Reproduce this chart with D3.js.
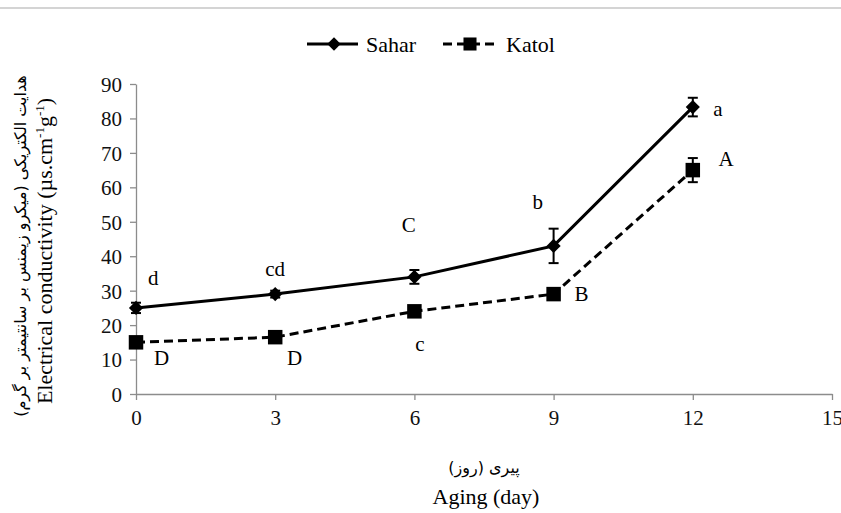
<!DOCTYPE html>
<html>
<head>
<meta charset="utf-8">
<script src="https://cdn.jsdelivr.net/npm/d3@7"></script>
<style>
body { margin: 0; background: #fff; }
</style>
</head>
<body>
<script>
var width = 841, height = 513;
var serif = "'Liberation Serif', 'Times New Roman', 'DejaVu Serif', serif";
var arabic = "'DejaVu Sans', sans-serif";

// data
var days = [0, 3, 6, 9, 12];
var sahar = [25, 29, 34, 43, 83.3];
var saharErr = [1.5, 1, 2, 5, 2.7];
var katol = [15, 16.5, 24, 29, 65];
var katolErr = [1, 1, 1, 1, 3.5];

var xTicks = [0, 3, 6, 9, 12, 15];
var yTicks = [0, 10, 20, 30, 40, 50, 60, 70, 80, 90];

// significance letters (label anchor in data units)
var saharLetters = ["d", "cd", "C", "b", "a"];
var saharLetterDay = [0.37, 3.0, 5.88, 8.66, 12.54];
var saharLetterVal = [33.7, 36.5, 49.2, 55.7, 82.9];
var katolLetters = ["D", "D", "c", "B", "A"];
var katolLetterDay = [0.55, 3.42, 6.12, 9.6, 12.72];
var katolLetterVal = [10.5, 10.6, 14.7, 29, 68.4];

var svg = d3.select("body")
.append("svg")
.attr("width", width)
.attr("height", height)
.attr("id", "svg")
.style("font-family", serif);

// thin frame line at the top
svg.append("line")
	.attr("x1", 0).attr("x2", width)
	.attr("y1", 8).attr("y2", 8)
	.attr("stroke", "#d4d4d4")
	.attr("stroke-width", 2);

var x = d3.scaleLinear().domain([0, 15]).range([136, 832]);
var y = d3.scaleLinear().domain([0, 90]).range([394, 84]);

// axes
var xAxis = svg.append("g")
	.attr("transform", "translate(0," + y(0) + ")")
	.call(d3.axisBottom(x).tickValues(xTicks).tickSize(6).tickPadding(10).tickSizeOuter(0));
var yAxis = svg.append("g")
	.attr("transform", "translate(" + x(0) + ",0)")
	.call(d3.axisLeft(y).tickValues(yTicks).tickSize(6).tickPadding(8).tickSizeOuter(0));

[xAxis, yAxis].forEach(function(ax){
	ax.attr("font-family", null).attr("font-size", null);
	ax.select(".domain").attr("stroke", "#8c8c8c").attr("stroke-width", 1.3);
	ax.selectAll(".tick line").attr("stroke", "#8c8c8c").attr("stroke-width", 1.3);
	ax.selectAll(".tick text")
		.style("font-family", serif)
		.style("font-size", "21px")
		.attr("fill", "#111");
});
yAxis.selectAll(".tick text").attr("dy", "0.35em");

var line = d3.line()
	.x(function(d){ return x(d[0]); })
	.y(function(d){ return y(d[1]); });

var marker = d3.symbol().type(d3.symbolSquare);

function series(vals, errs, dashed, size, rot){
	var pts = days.map(function(d, i){ return [d, vals[i], errs[i]]; });
	var g = svg.append("g");
	g.append("path")
		.datum(pts)
		.attr("d", line)
		.attr("fill", "none")
		.attr("stroke", "#000")
		.attr("stroke-width", 3)
		.attr("stroke-dasharray", dashed ? "9,5" : null);
	// error bars
	var eb = g.selectAll(".err").data(pts).enter().append("g");
	eb.append("line")
		.attr("x1", function(d){ return x(d[0]); })
		.attr("x2", function(d){ return x(d[0]); })
		.attr("y1", function(d){ return y(d[1] - d[2]); })
		.attr("y2", function(d){ return y(d[1] + d[2]); })
		.attr("stroke", "#000").attr("stroke-width", 2);
	[-1, 1].forEach(function(s){
		eb.append("line")
			.attr("x1", function(d){ return x(d[0]) - 5; })
			.attr("x2", function(d){ return x(d[0]) + 5; })
			.attr("y1", function(d){ return y(d[1] + s * d[2]); })
			.attr("y2", function(d){ return y(d[1] + s * d[2]); })
			.attr("stroke", "#000").attr("stroke-width", 2);
	});
	g.selectAll(".pt").data(pts).enter().append("path")
		.attr("d", marker.size(size))
		.attr("transform", function(d){ return "translate(" + x(d[0]) + "," + y(d[1]) + ") rotate(" + rot + ")"; })
		.attr("fill", "#000");
}

series(sahar, saharErr, false, 100, 45);
series(katol, katolErr, true, 210, 0);

function letters(txt, dd, vv){
	svg.append("g").selectAll("text").data(txt).enter().append("text")
		.attr("x", function(d, i){ return x(dd[i]); })
		.attr("y", function(d, i){ return y(vv[i]); })
		.attr("text-anchor", "middle")
		.attr("dy", "0.35em")
		.style("font-size", "21px")
		.text(function(d){ return d; });
}
letters(saharLetters, saharLetterDay, saharLetterVal);
letters(katolLetters, katolLetterDay, katolLetterVal);

// legend
var legend = svg.append("g");
legend.append("line").attr("x1", 307).attr("x2", 358).attr("y1", 44).attr("y2", 44)
	.attr("stroke", "#000").attr("stroke-width", 3);
legend.append("path").attr("d", marker.size(90)())
	.attr("transform", "translate(334,44) rotate(45)");
legend.append("text").attr("x", 366).attr("y", 44).attr("dy", "0.35em")
	.style("font-size", "22px").text("Sahar");
legend.append("line").attr("x1", 443).attr("x2", 497).attr("y1", 44).attr("y2", 44)
	.attr("stroke", "#000").attr("stroke-width", 3).attr("stroke-dasharray", "9,5");
legend.append("path").attr("d", marker.size(170)())
	.attr("transform", "translate(470,44)");
legend.append("text").attr("x", 506).attr("y", 44).attr("dy", "0.35em")
	.style("font-size", "22px").text("Katol");

// axis titles
svg.append("text")
	.style("font-family", arabic)
	.attr("transform", "translate(26,246) rotate(-90)")
	.attr("text-anchor", "middle")
	.style("font-size", "16px")
	.text("هدایت الکتریکی (میکرو زیمنس بر سانتیمتر بر گرم)");
var yt = svg.append("text")
	.attr("transform", "translate(52,251) rotate(-90)")
	.attr("text-anchor", "middle")
	.style("font-size", "22px");
yt.append("tspan").text("Electrical conductivity (µs.cm");
yt.append("tspan").attr("dy", -8).style("font-size", "13px").text("-1");
yt.append("tspan").attr("dy", 8).text("g");
yt.append("tspan").attr("dy", -8).style("font-size", "13px").text("-1");
yt.append("tspan").attr("dy", 8).text(")");

svg.append("text")
	.style("font-family", arabic)
	.attr("x", 484).attr("y", 473)
	.attr("text-anchor", "middle")
	.style("font-size", "16px")
	.text("پیری (روز)");
svg.append("text")
	.attr("x", 486).attr("y", 504)
	.attr("text-anchor", "middle")
	.style("font-size", "22px")
	.text("Aging (day)");
</script>
</body>
</html>
